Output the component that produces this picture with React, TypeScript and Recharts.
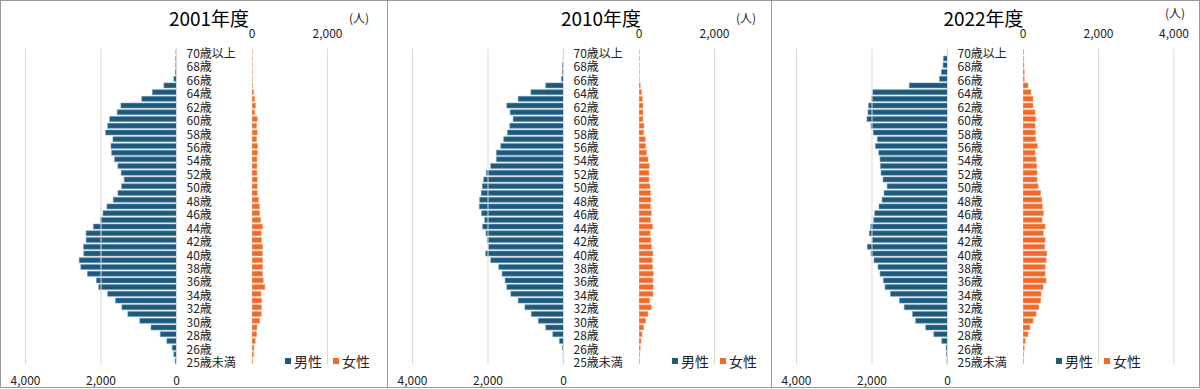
import React from 'react';
import { BarChart, Bar, XAxis, YAxis, ReferenceLine } from 'recharts';

const ages = [
  '25歳未満', '25歳', '26歳', '27歳', '28歳', '29歳', '30歳', '31歳', '32歳', '33歳',
  '34歳', '35歳', '36歳', '37歳', '38歳', '39歳', '40歳', '41歳', '42歳', '43歳',
  '44歳', '45歳', '46歳', '47歳', '48歳', '49歳', '50歳', '51歳', '52歳', '53歳',
  '54歳', '55歳', '56歳', '57歳', '58歳', '59歳', '60歳', '61歳', '62歳', '63歳',
  '64歳', '65歳', '66歳', '67歳', '68歳', '69歳', '70歳以上',
];

const male2001 = [
  35, 70, 114, 254, 430, 675, 973, 1289, 1447, 1614,
  1824, 2061, 2122, 2359, 2535, 2578, 2456, 2464, 2394, 2394,
  2201, 2008, 1947, 1842, 1675, 1552, 1456, 1386, 1465, 1552,
  1640, 1719, 1736, 1684, 1877, 1824, 1771, 1570, 1473, 921,
  640, 333, 70, 30, 20, 20, 15,
];
const female2001 = [
  18, 44, 53, 88, 123, 132, 202, 245, 254, 254,
  237, 342, 298, 280, 280, 280, 280, 280, 254, 245,
  280, 228, 202, 202, 175, 140, 140, 140, 132, 132,
  132, 149, 149, 123, 140, 123, 140, 70, 96, 70,
  44, 15, 8, 5, 5, 5, 5,
];
const male2010 = [
  5, 9, 27, 107, 284, 471, 667, 853, 1022, 1200,
  1396, 1502, 1547, 1627, 1716, 1929, 2062, 1991, 2018, 2054,
  2142, 2089, 2169, 2231, 2222, 2178, 2151, 2116, 2045, 1929,
  1778, 1778, 1662, 1582, 1485, 1422, 1333, 1413, 1502, 1200,
  862, 471, 53, 27, 27, 5, 5,
];
const female2010 = [
  10, 18, 35, 53, 79, 123, 176, 238, 326, 282,
  370, 378, 370, 378, 361, 352, 370, 334, 317, 299,
  361, 308, 326, 308, 317, 308, 290, 264, 264, 273,
  238, 202, 176, 167, 123, 132, 106, 106, 106, 88,
  70, 35, 5, 5, 5, 5, 5,
];
const male2022 = [
  15, 27, 36, 151, 364, 578, 845, 925, 1147, 1271,
  1511, 1654, 1698, 1787, 1840, 1947, 2027, 2125, 2000, 2071,
  2036, 1956, 1929, 1814, 1734, 1680, 1600, 1707, 1760, 1778,
  1787, 1822, 1911, 1858, 1965, 2027, 2134, 2107, 2089, 2009,
  1982, 1013, 213, 160, 116, 107, 5,
];
const female2022 = [
  10, 18, 35, 62, 133, 187, 267, 347, 418, 471,
  480, 533, 613, 587, 587, 613, 631, 578, 587, 542,
  587, 507, 542, 516, 498, 471, 400, 373, 373, 364,
  347, 320, 382, 338, 329, 320, 338, 320, 267, 267,
  213, 133, 35, 35, 25, 15, 15,
];

const titles = ['2001年度', '2010年度', '2022年度'];
const maleTicks = [0, 2000, 4000];
const femaleTicksNarrow = [0, 2000];
const femaleTicksWide = [0, 2000, 4000];
const gridValues = [2000, 4000];
const legendLabels = ['男性', '女性'];
const unitLabel = '(人)';

const MALE = '#1e5a7e';
const FEMALE = '#ee6b2b';
const GRID = '#d9d9d9';
const FONT = '"Noto Sans CJK JP", "Noto Sans", sans-serif';

const fmt = (v: number) => v.toLocaleString('en-US');

const CatTick = (props: any) => {
  const { x, y, payload, index } = props;
  if (index % 2 !== 0) return null;
  return (
    <text x={x} y={y + 2} dy="0.35em" textAnchor="start" fontSize={12} fill="#222" fontFamily={FONT}>
      {payload.value}
    </text>
  );
};

type PanelProps = {
  left: number;
  width: number;
  title: string;
  titleCenter: number;
  male: number[];
  female: number[];
  femaleTicks: number[];
  unitLeft: number;
  unitTop: number;
};

const Panel = ({ left, width, title, titleCenter, male, female, femaleTicks, unitLeft, unitTop }: PanelProps) => {
  const rows = ages.map((age, i) => ({ age, male: male[i], female: female[i] }));
  return (
    <div style={{ position: 'absolute', left, top: 0, width, height: 388, overflow: 'hidden', fontFamily: FONT }}>
      <span style={{ position: 'absolute', left: titleCenter, top: 8, transform: 'translateX(-50%)', lineHeight: '20px', fontSize: 19, color: '#000', whiteSpace: 'nowrap' }}>
        {title}
      </span>
      <span style={{ position: 'absolute', left: unitLeft, top: unitTop - 8, lineHeight: '16px', fontSize: 12, color: '#222', whiteSpace: 'nowrap' }}>
        {unitLabel}
      </span>
      <div style={{ position: 'absolute', left: 4, top: 0 }}>
        <BarChart width={251.5} height={394.3} data={rows} layout="vertical" margin={{ top: 48.3, right: 0, bottom: 0, left: 20.5 }} barSize={5}>
          <XAxis type="number" domain={[0, 4000]} ticks={maleTicks} reversed orientation="bottom" height={30}
            axisLine={false} tickLine={false} tickSize={0} tickMargin={12} tickFormatter={fmt}
            tick={{ fontSize: 12, fill: '#222', fontFamily: FONT }} allowDataOverflow />
          <YAxis type="category" dataKey="age" orientation="right" reversed width={80} interval={0}
            tick={<CatTick />} tickLine={false} tickSize={0} tickMargin={10} axisLine={{ stroke: GRID }} />
          {gridValues.map((g) => (
            <ReferenceLine key={g} x={g} stroke={GRID} strokeWidth={1} />
          ))}
          <Bar dataKey="male" fill={MALE} stroke="#6f98b3" strokeWidth={0.6} isAnimationActive={false} />
        </BarChart>
      </div>
      <div style={{ position: 'absolute', left: 230.5, top: 0 }}>
        <BarChart width={191} height={394.3} data={rows} layout="vertical" margin={{ top: 18.3, right: 20, bottom: 30, left: 20 }} barSize={5}>
          <XAxis type="number" domain={[0, 4000]} ticks={femaleTicks} orientation="top" height={30}
            axisLine={false} tickLine={false} tickSize={0} tickMargin={10} tickFormatter={fmt}
            tick={{ fontSize: 12, fill: '#222', fontFamily: FONT }} allowDataOverflow />
          <YAxis type="category" dataKey="age" reversed hide />
          {gridValues.map((g) => (
            <ReferenceLine key={g} x={g} stroke={GRID} strokeWidth={1} />
          ))}
          <Bar dataKey="female" fill={FEMALE} stroke="#f4a57a" strokeWidth={0.6} isAnimationActive={false} />
        </BarChart>
      </div>
      <div style={{ position: 'absolute', left: 284, top: 352, height: 18, display: 'flex', alignItems: 'center', fontSize: 14, color: '#222' }}>
        <span style={{ display: 'inline-block', width: 6, height: 6, background: MALE, marginRight: 3 }} />
        <span>{legendLabels[0]}</span>
        <span style={{ display: 'inline-block', width: 6, height: 6, background: FEMALE, marginLeft: 11, marginRight: 3 }} />
        <span>{legendLabels[1]}</span>
      </div>
    </div>
  );
};

export default function App() {
  return (
    <div style={{ position: 'absolute', left: 0, top: 0, width: 1200, height: 389, background: '#fff' }}>
      <Panel left={1} width={386} title={titles[0]} titleCenter={208} male={male2001} female={female2001} femaleTicks={femaleTicksNarrow} unitLeft={348} unitTop={18} />
      <Panel left={388} width={383} title={titles[1]} titleCenter={213} male={male2010} female={female2010} femaleTicks={femaleTicksNarrow} unitLeft={348} unitTop={18} />
      <Panel left={772} width={426} title={titles[2]} titleCenter={211.5} male={male2022} female={female2022} femaleTicks={femaleTicksWide} unitLeft={393} unitTop={13} />
      <div style={{ position: 'absolute', left: 0, top: 0, width: 1198, height: 386, border: '1px solid #999' }} />
      <div style={{ position: 'absolute', left: 387, top: 0, width: 1, height: 388, background: '#999' }} />
      <div style={{ position: 'absolute', left: 771, top: 0, width: 1, height: 388, background: '#999' }} />
    </div>
  );
}
